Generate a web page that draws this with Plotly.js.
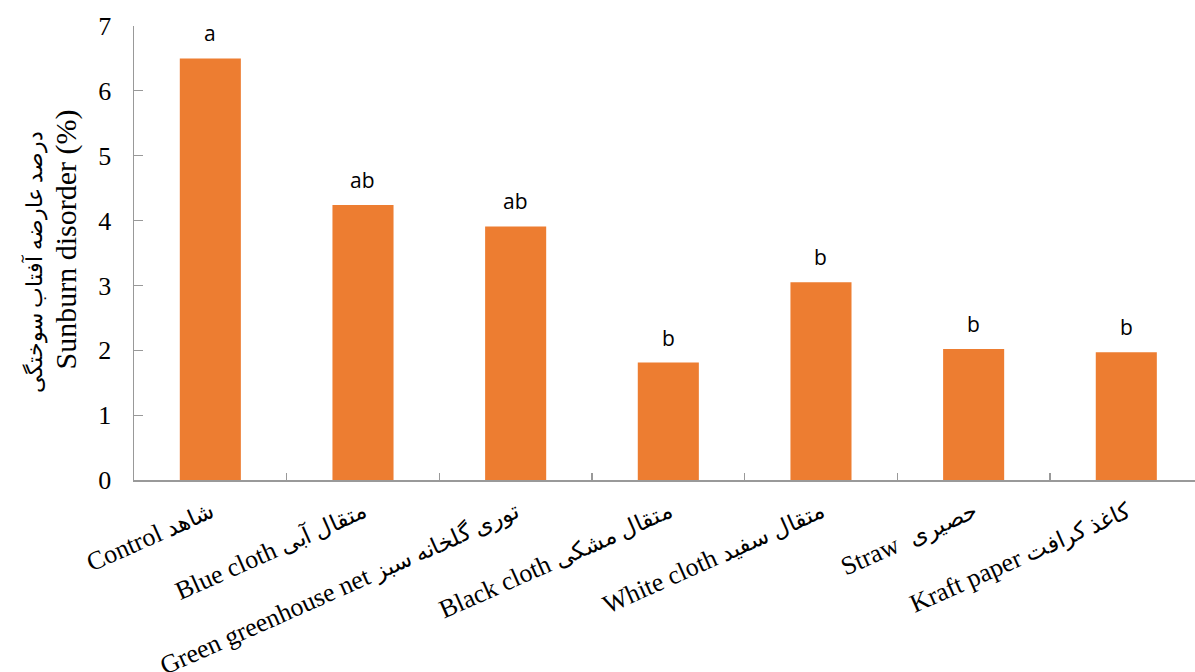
<!DOCTYPE html>
<html>
<head>
<meta charset="utf-8">
<script src="https://cdn.plot.ly/plotly-3.0.1.min.js"></script>
<style>
  html, body { margin: 0; padding: 0; background: #fff; }
  #chart { width: 1195px; height: 672px; }
</style>
</head>
<body>
<div id="chart"></div>
<script>
// Treatment names (English + Persian)
const englishNames = ["Control", "Blue cloth", "Green greenhouse net", "Black cloth", "White cloth", "Straw ", "Kraft paper"];
const persianNames = ["شاهد", "متقال آبی", "توری گلخانه سبز", "متقال مشکی", "متقال سفید", "حصیری", "کاغذ کرافت"];
// Sunburn disorder (%)
const sunburn = [6.5, 4.24, 3.91, 1.81, 3.05, 2.02, 1.97];
// Mean separation letters
const letters = ["a", "ab", "ab", "b", "b", "b", "b"];
// Axis title lines
const yTitlePersian = "درصد عارضه آفتاب سوختگی";
const yTitleEnglish = "Sunburn disorder (%)";

const serif = "Liberation Serif";
const categories = englishNames.map((e, i) => e + " " + persianNames[i]);
const tickLabels = englishNames.map((e, i) =>
  e + " <span style=\"font-size:23px\">" + persianNames[i] + "</span>");

const trace = {
  type: "bar",
  x: categories,
  y: sunburn,
  width: 0.4,
  marker: { color: "#ED7D31", line: { width: 0 } },
  hoverinfo: "x+y"
};

const annotations = categories.map((c, i) => ({
  x: c,
  y: sunburn[i],
  xref: "x",
  yref: "y",
  text: letters[i],
  showarrow: false,
  yanchor: "bottom",
  yshift: 9,
  font: { family: "Open Sans, Noto Sans, sans-serif", size: 21, color: "#000" }
}));

// Two-line y-axis title, drawn as rotated paper annotations
annotations.push({
  xref: "paper", yref: "paper",
  x: -0.064, y: 0.53,
  xanchor: "center", yanchor: "middle",
  textangle: -90,
  showarrow: false,
  text: yTitleEnglish,
  font: { family: serif, size: 30, color: "#000" }
});
annotations.push({
  xref: "paper", yref: "paper",
  x: -0.094, y: 0.48,
  xanchor: "center", yanchor: "middle",
  textangle: -90,
  showarrow: false,
  text: yTitlePersian,
  font: { family: serif, size: 22, color: "#000" }
});

const layout = {
  width: 1195,
  height: 672,
  margin: { l: 134, r: 0, t: 26, b: 192 },
  paper_bgcolor: "#fff",
  plot_bgcolor: "#fff",
  showlegend: false,
  xaxis: {
    type: "category",
    range: [-0.5, 6.45],
    tickvals: categories,
    ticktext: tickLabels,
    tickangle: -24,
    tickson: "boundaries",
    ticks: "inside",
    ticklen: 7,
    tickcolor: "#999",
    tickwidth: 1.2,
    showline: true,
    linecolor: "#999",
    linewidth: 1.5,
    showgrid: false,
    zeroline: false,
    ticklabelstandoff: 5,
    tickfont: { family: serif, size: 26, color: "#000" }
  },
  yaxis: {
    range: [0, 7],
    tickvals: [0, 1, 2, 3, 4, 5, 6, 7],
    ticks: "inside",
    ticklen: 9,
    tickcolor: "#999",
    tickwidth: 1.2,
    showline: true,
    linecolor: "#999",
    linewidth: 1.5,
    showgrid: false,
    zeroline: false,
    ticklabelstandoff: 16,
    tickfont: { family: serif, size: 26, color: "#000" }
  },
  annotations: annotations
};

Plotly.newPlot("chart", [trace], layout, { displayModeBar: false, staticPlot: true });
</script>
</body>
</html>
